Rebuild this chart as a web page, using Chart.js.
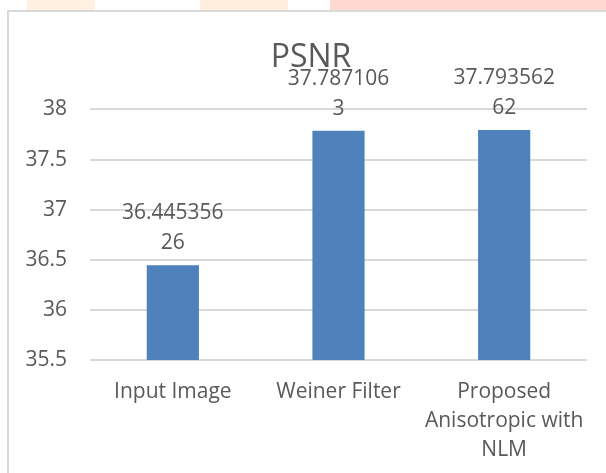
<!DOCTYPE html>
<html>
<head>
<meta charset="utf-8">
<script src="https://cdn.jsdelivr.net/npm/chart.js@4/dist/chart.umd.min.js"></script>
<style>
  html, body { margin: 0; padding: 0; background: #ffffff; }
  #wrap { position: relative; width: 606px; height: 473px; overflow: hidden; }
  .strip { position: absolute; top: 0; height: 10px; }
  #frame { position: absolute; left: 7px; top: 10px; width: 640px; height: 500px;
           border-left: 2px solid #d9d9d9; border-top: 2px solid #d9d9d9; box-sizing: border-box; }
  canvas { position: absolute; left: 0; top: 0; }
</style>
</head>
<body>
<div id="wrap">
  <div class="strip" style="left:27px;width:68px;background:#fff0e2;"></div>
  <div class="strip" style="left:200px;width:88px;background:#ffeddd;"></div>
  <div class="strip" style="left:330px;width:276px;background:#ffd9d1;"></div>
  <div id="frame"></div>
  <canvas id="chart" width="606" height="473"></canvas>
</div>
<script>
// Categories and PSNR values per method
const categories = [
  ['Input Image'],
  ['Weiner Filter'],
  ['Proposed', 'Anisotropic with', 'NLM']
];
const psnrValues = [36.44535626, 37.7871063, 37.79356262];
const yTicks = [35.5, 36, 36.5, 37, 37.5, 38];

const TEXT = '#595959';
const FONT = '"Open Sans", "Liberation Sans", sans-serif';

// Value labels above each bar, wrapped after nine characters
const valueLabels = {
  id: 'valueLabels',
  afterDatasetsDraw(chart) {
    const ctx = chart.ctx;
    const meta = chart.getDatasetMeta(0);
    ctx.save();
    ctx.font = '21px ' + FONT;
    ctx.fillStyle = TEXT;
    ctx.textAlign = 'center';
    ctx.textBaseline = 'middle';
    meta.data.forEach((bar, i) => {
      const s = String(psnrValues[i]);
      const lines = [s.slice(0, 9), s.slice(9)].filter(t => t.length);
      const n = lines.length;
      lines.forEach((t, k) => {
        ctx.fillText(t, bar.x, bar.y - 22 - (n - 1 - k) * 30);
      });
    });
    ctx.restore();
  }
};

new Chart(document.getElementById('chart'), {
  type: 'bar',
  data: {
    labels: categories,
    datasets: [{
      label: 'PSNR',
      data: psnrValues,
      backgroundColor: '#4f81bd',
      borderWidth: 0,
      categoryPercentage: 1,
      barPercentage: 0.315
    }]
  },
  options: {
    responsive: false,
    animation: false,
    layout: { padding: { left: 16, right: 0, top: 0, bottom: 0 } },
    plugins: {
      legend: { display: false },
      tooltip: { enabled: false },
      title: {
        display: true,
        text: 'PSNR',
        color: TEXT,
        font: { family: FONT, size: 32, weight: 'normal', lineHeight: 1.2 },
        padding: { top: 39, bottom: 32 }
      }
    },
    scales: {
      x: {
        grid: { display: false, drawTicks: false },
        border: { display: false },
        ticks: {
          color: TEXT,
          font: { family: FONT, size: 21, lineHeight: 1.38 },
          padding: 18,
          maxRotation: 0,
          autoSkip: false
        },
        afterFit(s) { s.height = 113; }
      },
      y: {
        min: 35.5,
        max: 38,
        grid: { color: '#d9d9d9', lineWidth: 2, drawTicks: false },
        border: { display: false },
        afterBuildTicks(s) { s.ticks = yTicks.map(v => ({ value: v })); },
        ticks: {
          color: TEXT,
          font: { family: FONT, size: 21 },
          padding: 23,
          callback: v => String(v)
        },
        afterFit(s) { s.width = 74; }
      },
      // empty right-hand margin beside the plot
      yRight: {
        type: 'linear',
        position: 'right',
        display: true,
        grid: { display: false, drawTicks: false },
        border: { display: false },
        ticks: { display: false },
        afterFit(s) { s.width = 19; }
      }
    }
  },
  plugins: [valueLabels]
});
</script>
</body>
</html>
